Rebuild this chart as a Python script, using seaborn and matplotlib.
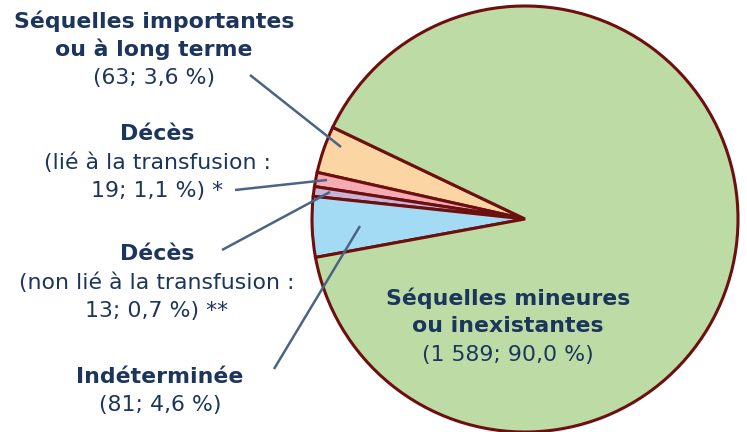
import matplotlib
matplotlib.use("Agg")
import matplotlib.pyplot as plt
import seaborn as sns

# data, in pie order (counter-clockwise from the orange slice)
categories = ["Séquelles importantes\nou à long terme",
              "Décès",
              "Décès",
              "Indéterminée",
              "Séquelles mineures\nou inexistantes"]
counts = [63, 19, 13, 81, 1589]
percents = [3.6, 1.1, 0.7, 4.6, 90.0]
notes = ["", "lié à la transfusion", "non lié à la transfusion", "", ""]
stars = ["", " *", " **", "", ""]
colors = ["#fcd5a4", "#f5aab4", "#c8b3d7", "#a3dbf5", "#bddca5"]

sns.set_theme(style="white")
plt.rcParams['font.family'] = ['DejaVu Sans']

navy = "#1c355d"
line_col = "#4b6485"
edge = "#6e0f0f"

fig = plt.figure(figsize=(7.47, 4.32), dpi=100)
ax = fig.add_axes([0, 0, 1, 1])

# pie drawn in y-down pixel coords -> counterclock=False flips it back visually
ax.pie(counts, colors=colors, startangle=-154.5, counterclock=False,
       center=(525, 219), radius=213, frame=True,
       wedgeprops=dict(edgecolor=edge, linewidth=2.2, joinstyle="miter"))
ax.set_xlim(0, 747)
ax.set_ylim(432, 0)
ax.set_aspect("equal")
ax.axis("off")


def fmt_n(n):
    return f"{n:,}".replace(",", " ")


def fmt_p(p):
    return f"{p:.1f}".replace(".", ",")


fs = 15.8
# label blocks: (x, y of first line)
blocks = [(154, 21), (157, 134), (157, 254), (160, 377), (508, 298)]
step = 28.5
for i, (x, y) in enumerate(blocks):
    lines = categories[i].split("\n")
    for j, t in enumerate(lines):
        ax.text(x, y + j * step, t, ha="center", va="center", fontsize=fs,
                fontweight="bold", color=navy)
    yy = y + len(lines) * step
    if notes[i]:
        ax.text(x, yy, f"({notes[i]} :", ha="center", va="center",
                fontsize=fs, color=navy)
        ax.text(x, yy + step, f"{counts[i]}; {fmt_p(percents[i])} %){stars[i]}",
                ha="center", va="center", fontsize=fs, color=navy)
    else:
        ax.text(x, yy, f"({fmt_n(counts[i])}; {fmt_p(percents[i])} %)",
                ha="center", va="center", fontsize=fs, color=navy)

# leader lines
leaders = [((250, 75), (341, 147)),
           ((235, 190), (327, 180)),
           ((222, 250), (330, 192)),
           ((274, 369), (360, 226))]
for (x0, y0), (x1, y1) in leaders:
    ax.plot([x0, x1], [y0, y1], color=line_col, lw=1.8, solid_capstyle="butt")

fig.savefig("out.png", dpi=100)
